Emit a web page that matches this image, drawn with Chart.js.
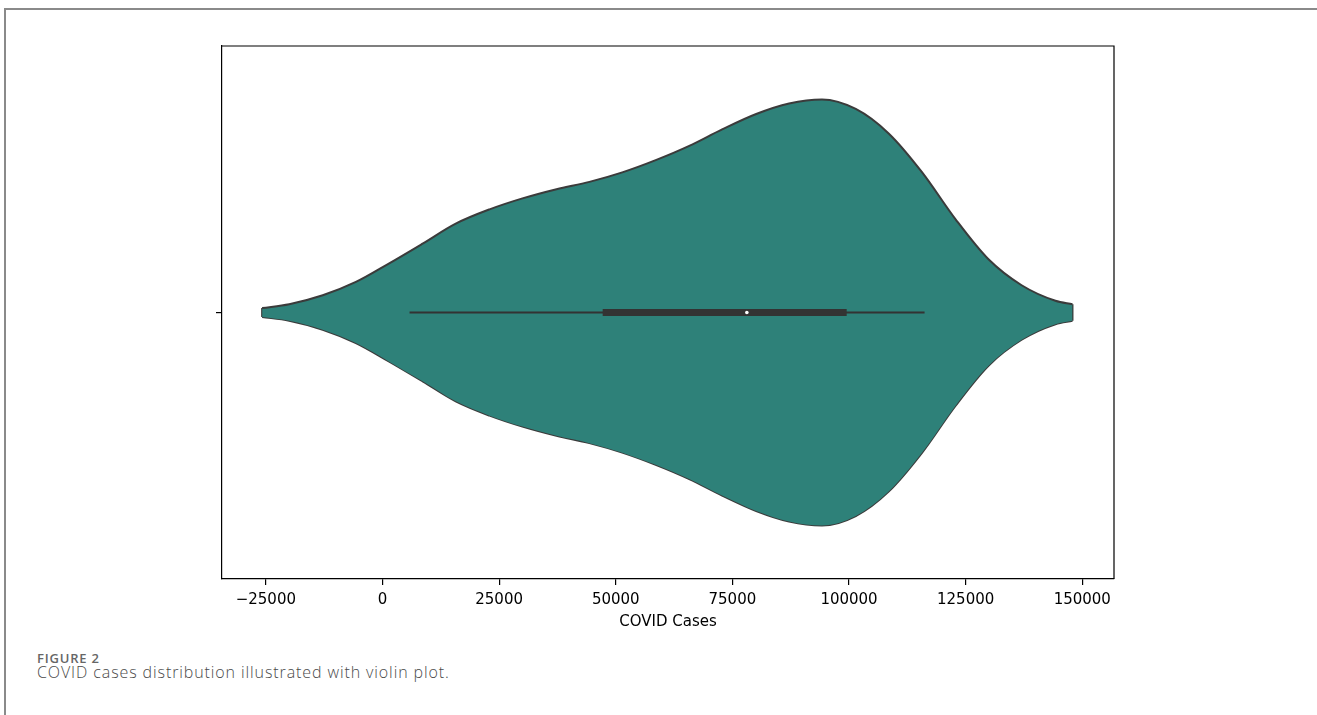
<!DOCTYPE html>
<html>
<head>
<meta charset="utf-8">
<script src="https://cdn.jsdelivr.net/npm/chart.js@4"></script>
<style>
  html, body { margin: 0; padding: 0; background: #fff; }
  body { width: 1317px; height: 715px; position: relative; overflow: hidden; }
  .frame { position: absolute; left: 4px; top: 8px; width: 1400px; height: 800px;
           border-left: 2px solid #8a8a8a; border-top: 2px solid #8a8a8a; }
  #wrap { position: absolute; left: 0; top: 0; width: 1317px; height: 640px; }
  .fig { position: absolute; left: 37px; top: 649px; font-family: "Open Sans", sans-serif;
         font-size: 13px; letter-spacing: 0.8px; color: #666; font-weight: 600; }
  .cap { position: absolute; left: 37px; top: 661px; font-family: "Open Sans", sans-serif;
         font-size: 16px; letter-spacing: 0.9px; color: #4a4a4a; font-weight: 300; }
</style>
</head>
<body>
<div class="frame"></div>
<div id="wrap"><canvas id="violin"></canvas></div>
<div class="fig">FIGURE 2</div>
<div class="cap">COVID cases distribution illustrated with violin plot.</div>
<script>
// violin outline: case value -> half width (category units)
const caseValues = [-25800, -20000, -12800, -5700, 1350, 8600, 15700, 22950, 30000, 37300,
  44350, 51400, 58700, 65750, 72800, 80100, 87150, 94200, 101450, 108500,
  115600, 122850, 129900, 137000, 144250, 147900];
const halfWidth = [0.0084, 0.0155, 0.0323, 0.0573, 0.0918, 0.1292, 0.1667, 0.1935, 0.2141, 0.2314,
  0.2451, 0.2629, 0.2863, 0.3126, 0.3435, 0.3725, 0.3922, 0.3997, 0.3819, 0.3360,
  0.2638, 0.1748, 0.0998, 0.0511, 0.0220, 0.0155];

// inner box plot
const whiskers = [5800, 116200];
const quartiles = [47200, 99500];
const median = 78100;

const tickValues = [-25000, 0, 25000, 50000, 75000, 100000, 125000, 150000];
const xLimits = [-34400, 156800];

const fillColor = "#2e8179";
const lineColor = "#3b3b3b";

const upper = caseValues.map((v, i) => ({ x: v, y: halfWidth[i] }));
const lower = caseValues.map((v, i) => ({ x: v, y: -halfWidth[i] }));
const last = caseValues.length - 1;
const leftTip = [{ x: caseValues[0], y: -halfWidth[0] }, { x: caseValues[0], y: halfWidth[0] }];
const rightTip = [{ x: caseValues[last], y: -halfWidth[last] }, { x: caseValues[last], y: halfWidth[last] }];

// draws the top and right sides of the axes box
const boxFrame = {
  id: "boxFrame",
  afterDraw(chart) {
    const { ctx, chartArea: a } = chart;
    ctx.save();
    ctx.strokeStyle = "#000";
    ctx.lineWidth = 1.2;
    ctx.beginPath();
    ctx.moveTo(a.left, a.top);
    ctx.lineTo(a.right, a.top);
    ctx.lineTo(a.right, a.bottom);
    ctx.stroke();
    ctx.restore();
  }
};

const ctx = document.getElementById("violin").getContext("2d");
new Chart(ctx, {
  type: "line",
  data: {
    datasets: [
      { data: [{ x: median, y: 0 }], showLine: false, pointRadius: 1.8,
        pointBackgroundColor: "#fff", pointBorderWidth: 0, order: 0 },
      { data: quartiles.map(v => ({ x: v, y: 0 })), borderColor: "#333", borderWidth: 7,
        borderCapStyle: "butt", pointRadius: 0, order: 1 },
      { data: whiskers.map(v => ({ x: v, y: 0 })), borderColor: "#333", borderWidth: 2,
        pointRadius: 0, order: 2 },
      { data: upper, fill: "+1", backgroundColor: fillColor, borderColor: lineColor,
        borderWidth: 2, pointRadius: 0, cubicInterpolationMode: "monotone", order: 3 },
      { data: lower, fill: false, borderColor: lineColor, borderWidth: 2, pointRadius: 0,
        cubicInterpolationMode: "monotone", order: 4 },
      { data: leftTip, borderColor: lineColor, borderWidth: 2, pointRadius: 0, order: 5 },
      { data: rightTip, borderColor: lineColor, borderWidth: 2, pointRadius: 0, order: 6 }
    ]
  },
  options: {
    responsive: true,
    maintainAspectRatio: false,
    animation: false,
    layout: { padding: { left: 212, top: 46, right: 203, bottom: 9 } },
    plugins: { legend: { display: false }, tooltip: { enabled: false } },
    scales: {
      x: {
        type: "linear",
        min: xLimits[0],
        max: xLimits[1],
        afterBuildTicks: s => { s.ticks = tickValues.map(v => ({ value: v })); },
        afterFit: s => { s.height = 52; },
        grid: { drawOnChartArea: false, tickLength: 6, color: "#000", lineWidth: 1.2 },
        border: { color: "#000", width: 1.2 },
        ticks: {
          color: "#000", padding: 6, maxRotation: 0, autoSkip: false,
          font: { family: "DejaVu Sans", size: 15 },
          callback: v => (v < 0 ? "\u2212" + Math.abs(v) : String(v))
        },
        title: { display: true, text: "COVID Cases", color: "#000",
                 font: { family: "DejaVu Sans", size: 15 }, padding: { top: 0, bottom: 0 } }
      },
      y: {
        min: -0.5,
        max: 0.5,
        afterBuildTicks: s => { s.ticks = [{ value: 0 }]; },
        afterFit: s => { s.width = 10; },
        grid: { drawOnChartArea: false, tickLength: 6, color: "#000", lineWidth: 1.2 },
        border: { color: "#000", width: 1.2 },
        ticks: { callback: () => "", padding: 0 }
      }
    }
  },
  plugins: [boxFrame]
});
</script>
</body>
</html>
